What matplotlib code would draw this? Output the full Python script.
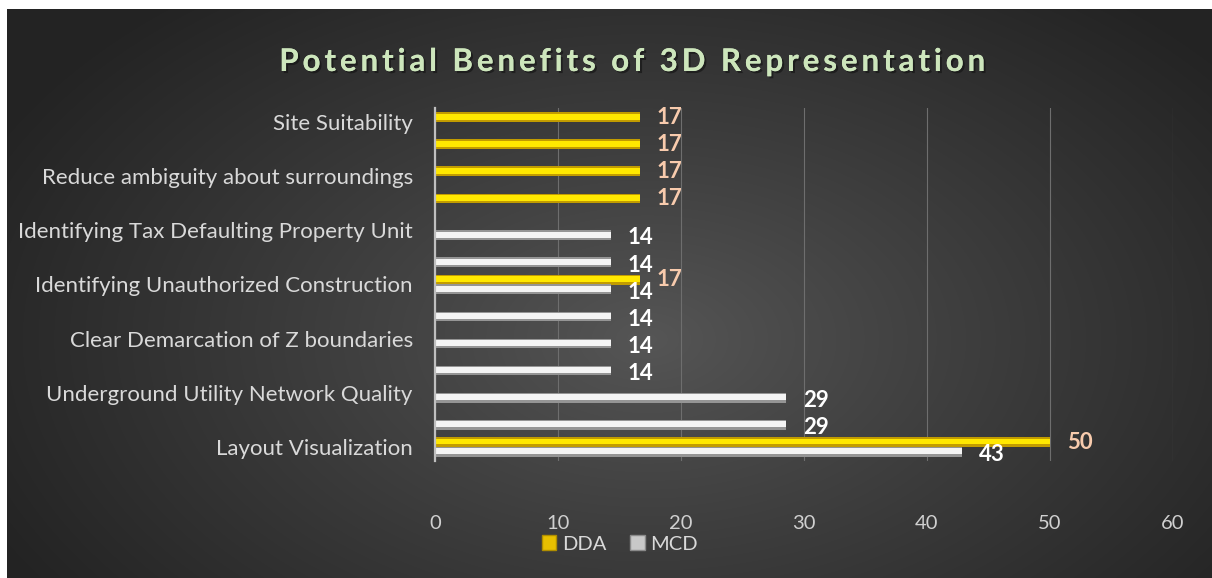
import numpy as np
import matplotlib
matplotlib.use("Agg")
import matplotlib.pyplot as plt
from matplotlib.patches import Patch
import matplotlib.patheffects as pe

# ---------------- data ----------------
categories = ["Layout Visualization", "", "Underground Utility Network Quality", "",
              "Clear Demarcation of Z boundaries", "", "Identifying Unauthorized Construction", "",
              "Identifying Tax Defaulting Property Unit", "", "Reduce ambiguity about surroundings", "",
              "Site Suitability"]
dda = [50.0, 0, 0, 0, 0, 0, 16.67, 0, 0, 16.67, 16.67, 16.67, 16.67]
mcd = [42.86, 28.57, 28.57, 14.29, 14.29, 14.29, 14.29, 14.29, 14.29, 0, 0, 0, 0]
series_names = ["DDA", "MCD"]
xticks = [0, 10, 20, 30, 40, 50, 60]
title = "Potential Benefits of 3D Representation"

plt.rcParams['font.family'] = ['Lato', 'DejaVu Sans']

W, H = 1212, 578
fig = plt.figure(figsize=(W / 100, H / 100), dpi=100, facecolor='white')

# ---------------- background (radial gradient) ----------------
bx0, by0 = 7, 9
bg = fig.add_axes([bx0 / W, 0, 1 - bx0 / W, 1 - by0 / H], zorder=-10)
gw, gh = W - bx0, H - by0
xx, yy = np.meshgrid(np.arange(gw), np.arange(gh))
cx, cy = 640, 330
r = np.sqrt(((xx - cx) / 720.0) ** 2 + ((yy - cy) / 440.0) ** 2)
r = np.clip(r, 0, 1) ** 0.9
c_in = np.array([0x56, 0x56, 0x56]) / 255
c_out = np.array([0x24, 0x24, 0x24]) / 255
img = c_in[None, None, :] * (1 - r[..., None]) + c_out[None, None, :] * r[..., None]
bg.imshow(img, aspect='auto', extent=[0, 1, 0, 1], origin='upper')
bg.axis('off')

# ---------------- main axes ----------------
left, right = 435 / W, 1173 / W
top, bottom = 1 - 108.5 / H, 1 - 460.5 / H
ax = fig.add_axes([left, bottom, right - left, top - bottom])
ax.set_facecolor('none')

y = np.arange(len(categories))
h = 0.36
off = 0.18

dda_arr = np.array(dda, dtype=float)
mcd_arr = np.array(mcd, dtype=float)
md = dda_arr > 0
mm = mcd_arr > 0

# DDA bars (gold gradient imitation)
ax.barh(y[md] + off, dda_arr[md], height=h, color='#C29C00', edgecolor='none', zorder=3)
ax.barh(y[md] + off + 0.02, dda_arr[md], height=h * 0.6, color='#FFE800', edgecolor='none', zorder=4)
# MCD bars (silver gradient imitation)
ax.barh(y[mm] - off, mcd_arr[mm], height=h, color='#959595', edgecolor='none', zorder=3)
ax.barh(y[mm] - off + 0.02, mcd_arr[mm], height=h * 0.6, color='#F4F4F4', edgecolor='none', zorder=4)

for yi, v in zip(y[md], dda_arr[md]):
    ax.annotate(f"{v:.0f}", (v, yi + off), xytext=(12, 0), textcoords='offset points',
                ha='left', va='center', fontsize=16, fontweight='bold', color='#F8CBAD', zorder=6)
for yi, v in zip(y[mm], mcd_arr[mm]):
    ax.annotate(f"{v:.0f}", (v, yi - off), xytext=(12, -2), textcoords='offset points',
                ha='left', va='center', fontsize=16, fontweight='bold', color='#FFFFFF', zorder=6)

ax.set_xlim(0, 60)
ax.set_ylim(-0.5, len(categories) - 0.5)
ax.set_xticks(xticks)
ax.set_xticklabels([str(t) for t in xticks], fontsize=14.5, color='#D0D0D0')
ax.set_yticks(y[::2])
ax.set_yticklabels([categories[i] for i in y[::2]], fontsize=16, color='#D9D9D9')
ax.tick_params(axis='both', length=0)
ax.tick_params(axis='x', pad=39)
ax.tick_params(axis='y', pad=16)
ax.grid(axis='x', color='#6E6E6E', linewidth=0.8, zorder=0)
ax.grid(axis='y', visible=False)
for s in ['top', 'right', 'bottom']:
    ax.spines[s].set_visible(False)
ax.spines['left'].set_color('#BFBFBF')
ax.spines['left'].set_linewidth(1.6)
ax.spines['left'].set_zorder(5)

# ---------------- title ----------------
spaced = "\u2009".join(title)
fig.text(632 / W, 1 - 62 / H, spaced, ha='center', va='center', fontsize=22.5, fontweight='bold',
         color='#CDE6BC',
         path_effects=[pe.withSimplePatchShadow(offset=(1.5, -1.5), shadow_rgbFace='#111111', alpha=0.6),
                       pe.Normal()])

# ---------------- legend ----------------
handles = [Patch(facecolor='#E8C000', edgecolor='#B08E00'),
           Patch(facecolor='#C8C8C8', edgecolor='#8A8A8A')]
leg = fig.legend(handles, series_names, loc='center', bbox_to_anchor=(620 / W, 1 - 544 / H),
                 ncol=2, frameon=False, fontsize=14.5, labelcolor='#D9D9D9',
                 handlelength=0.7, handleheight=0.7, handletextpad=0.3, columnspacing=1.2)

fig.savefig('out.png', dpi=100, facecolor='white')
